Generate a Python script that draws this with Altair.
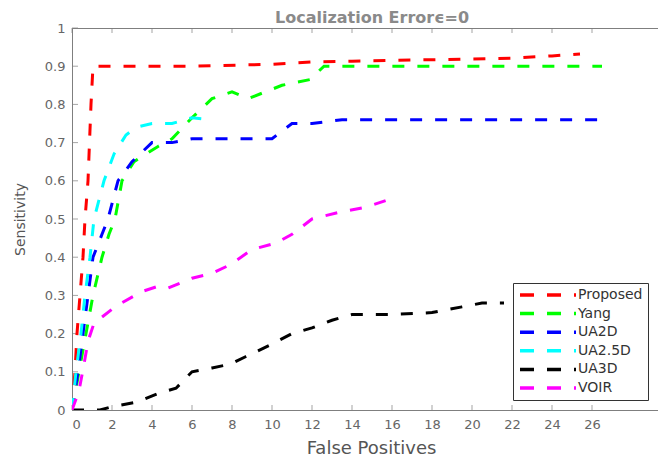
import altair as alt
import pandas as pd

# ---- data ----
series_names = ["Proposed", "Yang", "UA2D", "UA2.5D", "UA3D", "VOIR"]
series_colors = ["#ff0000", "#00ff00", "#0000ff", "#00ffff", "#000000", "#ff00ff"]

proposed_x = [0, 0.15, 0.25, 0.4, 0.55, 0.65, 0.8, 0.95, 1.05, 6, 10, 12, 14, 16, 18, 20, 22, 24, 25.4]
proposed_y = [0, 0.1, 0.2, 0.3, 0.4, 0.5, 0.6, 0.8, 0.9, 0.9, 0.905, 0.911, 0.913, 0.915, 0.917, 0.919, 0.921, 0.927, 0.932]

yang_x = [0, 0.35, 0.7, 1.05, 1.5, 1.85, 2.15, 2.5, 3.1, 4.3, 5, 6, 7, 8, 8.8, 10.5, 11.9, 12.6, 14, 26.5]
yang_y = [0, 0.1, 0.2, 0.3, 0.4, 0.46, 0.5, 0.6, 0.65, 0.69, 0.71, 0.765, 0.815, 0.833, 0.815, 0.85, 0.865, 0.9, 0.9, 0.9]

ua2d_x = [0, 0.3, 0.55, 0.8, 1.05, 1.5, 1.8, 2.3, 3, 4, 5, 6, 10, 11, 12, 13.5, 26.5]
ua2d_y = [0, 0.1, 0.2, 0.3, 0.4, 0.46, 0.5, 0.6, 0.65, 0.7, 0.7, 0.71, 0.71, 0.75, 0.75, 0.76, 0.76]

ua25d_x = [0, 0.2, 0.45, 0.65, 0.9, 1.1, 1.6, 2.1, 2.7, 3.2, 4, 5, 6, 7]
ua25d_y = [0, 0.1, 0.2, 0.3, 0.4, 0.5, 0.6, 0.67, 0.72, 0.74, 0.75, 0.75, 0.765, 0.76]

ua3d_x = [0, 0.7, 1.4, 2.1, 3.2, 4.4, 5.2, 6, 7, 7.9, 8.7, 9.9, 11, 12, 13, 14, 16, 18, 19.5, 20.5, 21.6]
ua3d_y = [0, 0, 0, 0.01, 0.02, 0.045, 0.057, 0.1, 0.11, 0.12, 0.14, 0.17, 0.2, 0.215, 0.235, 0.25, 0.25, 0.255, 0.27, 0.28, 0.28]

voir_x = [0, 0.35, 0.6, 0.8, 1.1, 2.2, 3.5, 4.2, 4.7, 6, 7, 7.9, 9, 10.2, 11, 12, 13.4, 14.7, 15.9]
voir_y = [0, 0.05, 0.12, 0.18, 0.227, 0.272, 0.31, 0.322, 0.317, 0.345, 0.358, 0.38, 0.42, 0.437, 0.46, 0.5, 0.518, 0.531, 0.552]

x_ticks = list(range(0, 27, 2))
y_ticks = [0, 0.1, 0.2, 0.3, 0.4, 0.5, 0.6, 0.7, 0.8, 0.9, 1]

# ---- tables ----
all_series = [
    ("Proposed", proposed_x, proposed_y),
    ("Yang", yang_x, yang_y),
    ("UA2D", ua2d_x, ua2d_y),
    ("UA2.5D", ua25d_x, ua25d_y),
    ("UA3D", ua3d_x, ua3d_y),
    ("VOIR", voir_x, voir_y),
]
rows = []
for name, xs, ys in all_series:
    for i, (xv, yv) in enumerate(zip(xs, ys)):
        rows.append({"series": name, "x": xv, "y": yv, "i": i})
df = pd.DataFrame(rows)
xtick_df = pd.DataFrame({"x": x_ticks})
ytick_df = pd.DataFrame({"y": y_ticks})

W, H = 586, 382
AX = "#7f7f7f"
FONT = "DejaVu Sans"

xscale = alt.Scale(domain=[0, 29.3], nice=False, zero=False)
yscale = alt.Scale(domain=[0, 1], nice=False, zero=False)

x_axis = alt.Axis(orient="bottom", values=x_ticks, tickSize=0, grid=False,
                  title="False Positives", titleFontSize=18, titlePadding=8,
                  titleX=299, titleAlign="center",
                  labelPadding=8, format="d")
y_axis = alt.Axis(orient="left", values=y_ticks, tickSize=0, grid=False,
                  title="Sensitivity", titleFontSize=14, titlePadding=17,
                  labelPadding=7, format=".1~f")

X = alt.X("x:Q", scale=xscale, axis=x_axis)
Y = alt.Y("y:Q", scale=yscale, axis=y_axis)

lines = alt.Chart(df).mark_line(strokeWidth=3, strokeDash=[12, 13], strokeCap="butt", clip=True).encode(
    x=X,
    y=Y,
    color=alt.Color("series:N",
                    scale=alt.Scale(domain=series_names, range=series_colors),
                    legend=alt.Legend(
                        title=None, orient="none", legendX=441, legendY=255,
                        symbolType="stroke", symbolSize=3136, symbolStrokeWidth=3.5,
                        symbolDash=[14, 13], labelFontSize=14, labelColor="#333333",
                        labelFont=FONT, labelOffset=0, padding=5, rowPadding=4.6,
                        clipHeight=14,
                        strokeColor="#333333", fillColor="white")),
    order="i:Q",
)

# inward tick marks (short ticks drawn at the tick values, using the shared scales)
xt_bottom = alt.Chart(xtick_df).mark_tick(color=AX, thickness=1, size=5, orient="vertical",
                                          yOffset=-2.5).encode(x=X, y=alt.value(H))
xt_top = alt.Chart(xtick_df).mark_tick(color=AX, thickness=1, size=5, orient="vertical",
                                       yOffset=2.5).encode(x=X, y=alt.value(0))
yt_left = alt.Chart(ytick_df).mark_tick(color=AX, thickness=1, size=6, orient="horizontal",
                                        xOffset=3).encode(y=Y, x=alt.value(0))

chart = alt.layer(xt_bottom, xt_top, yt_left, lines).properties(
    width=W, height=H,
    autosize=alt.AutoSizeParams(type="none"),
    padding={"left": 72, "top": 28, "right": 0, "bottom": 49},
    background="white",
    title=alt.TitleParams("Localization Errorϵ=0", font=FONT, fontSize=16,
                          fontWeight="bold", color="#8a8a8a", anchor="middle",
                          offset=-4, dx=7),
).configure_view(stroke=AX, strokeWidth=1).configure_axis(
    domainColor=AX, tickColor=AX, labelColor="#666666", titleColor="#555555",
    labelFont=FONT, titleFont=FONT, labelFontSize=13, titleFontWeight="normal",
    domainWidth=1, tickWidth=1,
)

chart.save("out.html", embed_options={"renderer": "svg", "actions": False})
